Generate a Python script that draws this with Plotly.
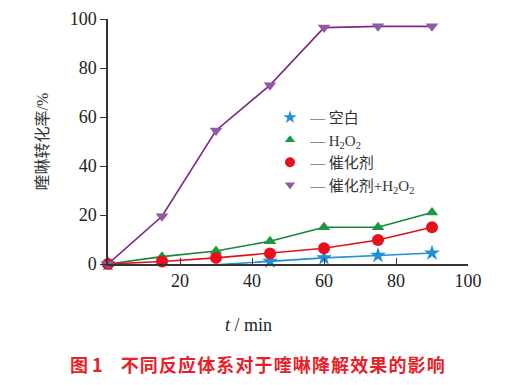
import plotly.graph_objects as go

t = [0, 15, 30, 45, 60, 75, 90]
blank = [0, -0.6, -0.3, 1.1, 2.5, 3.5, 4.5]
h2o2 = [0, 3, 5.3, 9.3, 15, 15, 21]
catalyst = [0, 1, 2.5, 4.3, 6.4, 9.8, 15]
cat_h2o2 = [0, 19.5, 54.5, 73, 96.5, 97, 97]

names = ["— 空白", "— H<sub>2</sub>O<sub>2</sub>", "— 催化剂", "— 催化剂+H<sub>2</sub>O<sub>2</sub>"]
x_ticks = [20, 40, 60, 80, 100]
y_ticks = [0, 20, 40, 60, 80, 100]

series = [
    (blank, "#1f8fd6", "#1f8fd6", "star", 12),
    (h2o2, "#13873a", "#1a9a3e", "triangle-up", 11),
    (catalyst, "#e0101a", "#e8101a", "circle", 12),
    (cat_h2o2, "#7a2a80", "#8e5aa6", "triangle-down", 11),
]

caption = "图 1　" + "\u200a".join("不同反应体系对于喹啉降解效果的影响")

serif = "Liberation Serif, Times New Roman, Noto Sans CJK SC, serif"
fig = go.Figure()
for (vals, lc, mc, sym, sz), nm in zip(series, names):
    fig.add_trace(go.Scatter(
        x=t, y=vals, mode="lines+markers", showlegend=False, cliponaxis=False,
        line=dict(color=lc, width=1.6),
        marker=dict(symbol=sym, size=sz, color=mc, line=dict(width=0)),
    ))
for (vals, lc, mc, sym, sz), nm in zip(series, names):
    fig.add_trace(go.Scatter(
        x=[None], y=[None], mode="markers", name=nm,
        marker=dict(symbol=sym, size=sz - 2, color=mc, line=dict(width=0)),
    ))

fig.update_layout(
    width=512, height=369,
    margin=dict(l=100, r=52, t=11, b=113),
    paper_bgcolor="white", plot_bgcolor="white",
    font=dict(family=serif, size=18, color="#222"),
    legend=dict(x=0.45, y=0.665, xanchor="left", yanchor="top",
                font=dict(size=15, color="#333"), itemwidth=30,
                bgcolor="rgba(0,0,0,0)", tracegroupgap=0),
    xaxis=dict(range=[0, 100], tickvals=x_ticks, ticks="inside", ticklen=6,
               showline=True, linecolor="#333", linewidth=1.5, showgrid=False,
               zeroline=False, tickcolor="#333", tickfont=dict(size=18),
               ticklabeloverflow="allow", automargin=False),
    yaxis=dict(range=[0, 100], tickvals=y_ticks, ticks="outside", ticklen=6,
               showline=True, linecolor="#333", linewidth=1.5, showgrid=False,
               zeroline=False, tickcolor="#333", tickfont=dict(size=18),
               ticklabeloverflow="allow", automargin=False,
               title=dict(text="喹啉转化率/%", font=dict(size=16, color="#333"), standoff=17)),
    annotations=[
        dict(text="<i>t</i> / min", xref="paper", yref="paper", x=0.389, y=-0.249,
             showarrow=False, font=dict(size=18, color="#222"), yanchor="middle"),
        dict(text="<b>" + caption + "</b>", xref="paper", yref="paper",
             x=0.414, y=-0.408, showarrow=False, yanchor="middle",
             font=dict(size=18, color="#e8202a", family="Noto Sans CJK SC, sans-serif")),
    ],
)
fig.write_html("out.html")
